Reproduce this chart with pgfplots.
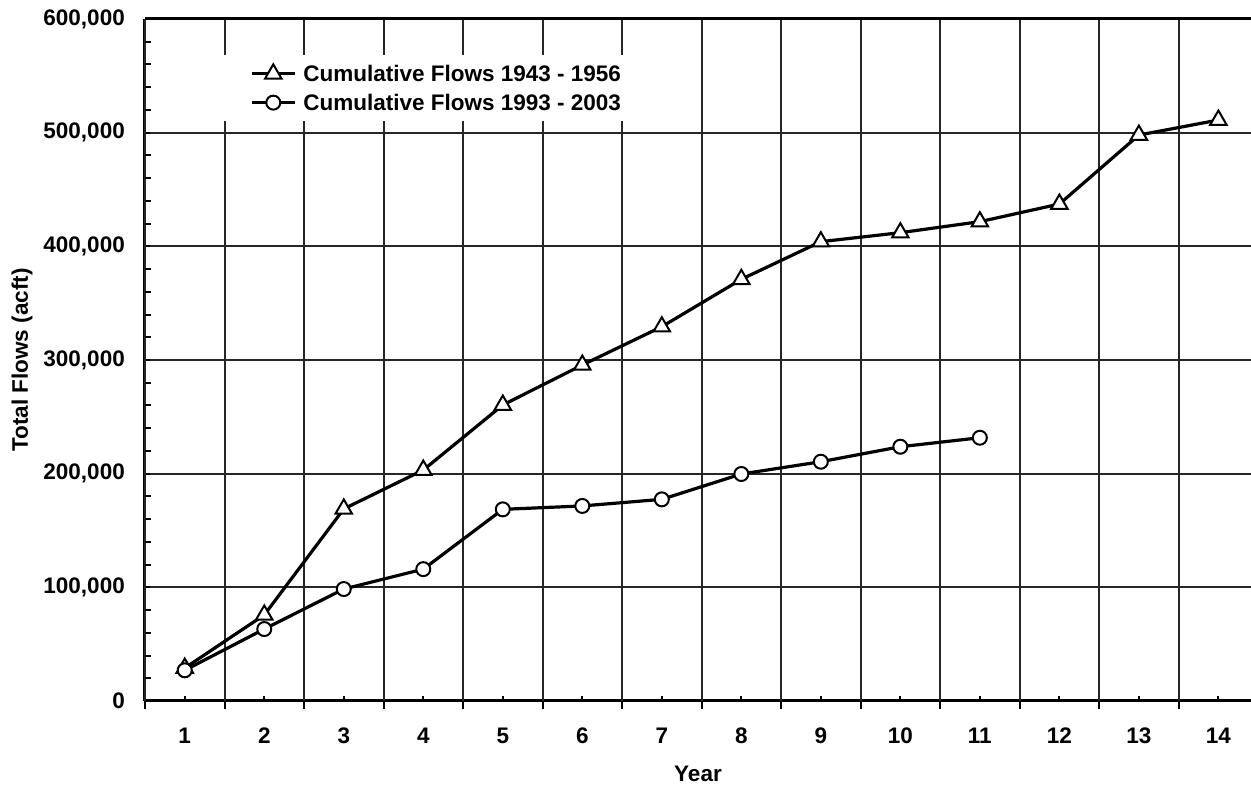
\documentclass[border=0pt]{standalone}
\usepackage{fontspec}
\setmainfont{Liberation Sans}
\usepackage{pgfplots}
\pgfplotsset{compat=1.18}

\newcommand{\chartfont}{\fontsize{22.5}{27}\selectfont\bfseries}

\begin{document}
\begin{tikzpicture}
\begin{axis}[
  at={(0pt,0pt)}, anchor=south west,
  scale only axis,
  width=1106pt, height=682pt,
  xmin=0.5, xmax=14.41,
  ymin=0, ymax=600000,
  axis x line*=bottom, axis y line*=left,
  axis line style={line width=3pt},
  xtick={1,...,14},
  tick align=inside,
  major tick length=5pt,
  xmajorgrids=false, ymajorgrids=true,
  grid style={line width=2pt, black!85},
  extra x ticks={0.5,1.5,...,13.5},
  extra x tick labels={},
  extra x tick style={grid=major, tick align=outside, major tick length=8pt},
  ytick={0,100000,...,600000},
  extra y ticks={20000,40000,60000,80000,120000,140000,160000,180000,220000,240000,260000,280000,320000,340000,360000,380000,420000,440000,460000,480000,520000,540000,560000,580000},
  extra y tick labels={},
  extra y tick style={grid=none, tick align=inside, major tick length=6pt},
  tick style={line width=2pt, black},
  scaled y ticks=false,
  /pgf/number format/.cd, fixed, 1000 sep={,}, assume math mode=true,
  /pgfplots/.cd,
  yticklabel style={font=\chartfont, anchor=east, inner sep=0pt, xshift=-20pt},
  xticklabel style={font=\chartfont, anchor=center, inner sep=0pt, yshift=-34.5pt},
  xlabel={Year},
  ylabel={Total Flows (acft)},
  every axis x label/.style={at={(axis description cs:0.5,-0.107)}, anchor=center, font=\chartfont},
  every axis y label/.style={at={(axis description cs:-0.1112,0.5)}, rotate=90, anchor=center, font=\chartfont},
  legend style={at={(axis description cs:0.0633,0.947)}, anchor=north west,
    draw=none, fill=white, font=\chartfont,
    inner xsep=35pt, inner ysep=9pt,
    nodes={inner sep=0pt}, row sep=11pt},
  legend cell align=left,
  legend image code/.code={
    \draw[mark repeat=2,mark phase=2,#1] plot coordinates {(0pt,0pt) (21.5pt,0pt) (43pt,0pt)};
  },
  clip=false,
]
\draw[line width=3pt] (rel axis cs:0,1) -- (rel axis cs:1,1);

\addplot[black, line width=3.2pt, mark=triangle*, mark size=9.5pt,
  mark options={fill=white, draw=black, line width=2pt}] coordinates {
(1,29000) (2,75700) (3,169000) (4,203200) (5,260400) (6,295600) (7,329300)
(8,371000) (9,404100) (10,412000) (11,421700) (12,437200) (13,497900) (14,511100)
};
\addlegendentry{\hspace{7pt}Cumulative Flows 1943 - 1956}

\addplot[black, line width=3.2pt, mark=*, mark size=7pt,
  mark options={fill=white, draw=black, line width=2pt}] coordinates {
(1,27000) (2,63300) (3,98500) (4,116000) (5,168600) (6,171600) (7,177400)
(8,199700) (9,210500) (10,223700) (11,231600)
};
\addlegendentry{\hspace{7pt}Cumulative Flows 1993 - 2003}
\end{axis}
\pgfresetboundingbox
\useasboundingbox (-145pt,-85pt) rectangle (1106pt,701pt);
\end{tikzpicture}
\end{document}
